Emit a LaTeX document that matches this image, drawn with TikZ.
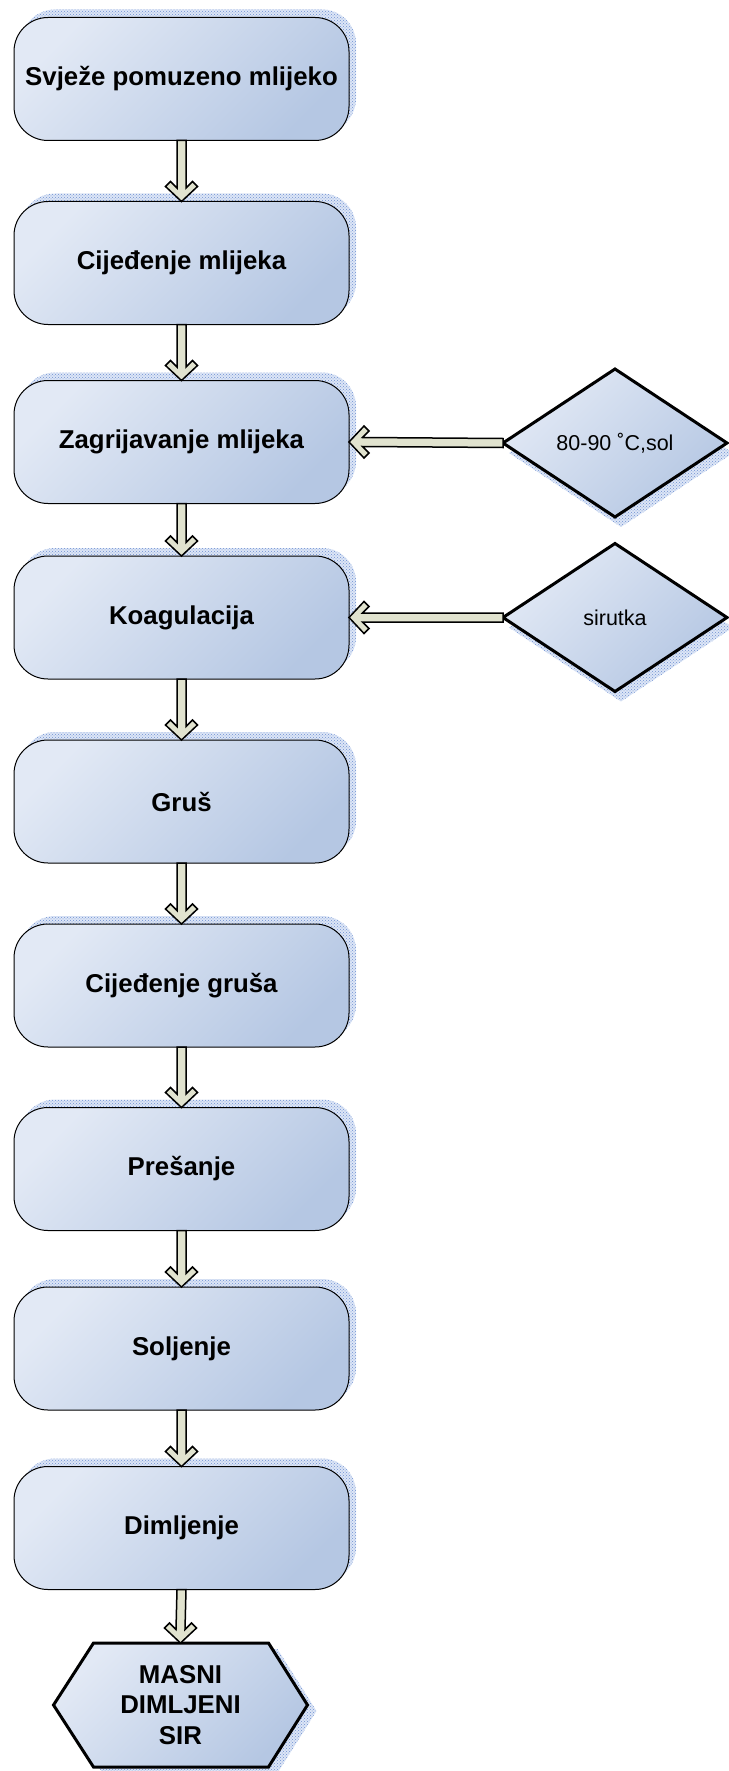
\documentclass[tikz,border=0pt]{standalone}
\usepackage{fontspec}
\setmainfont{Liberation Sans}
\usetikzlibrary{calc,shapes.geometric,shadows,patterns,backgrounds}
\definecolor{boxlight}{HTML}{E2E9F5}
\definecolor{boxdark}{HTML}{B5C7E3}
\definecolor{arrowfill}{HTML}{E1E3CF}
\definecolor{shadowbg}{HTML}{DDE6F6}
\definecolor{shadowdot}{HTML}{6F90D2}
\tikzset{
  boxshade/.style={top color=boxlight, bottom color=boxdark, shading angle=45},
  dotshadow/.style n args={2}{
    general shadow={fill=shadowbg, draw=none, shadow xshift=#1, shadow yshift=#2},
    general shadow={pattern=crosshatch dots, pattern color=shadowdot, draw=none, shadow xshift=#1, shadow yshift=#2}},
  stepbox/.style={rectangle, rounded corners=34pt, minimum width=335pt, minimum height=123pt,
    inner sep=0pt, outer sep=0pt, align=center,
    dotshadow={7pt}{8pt},
    draw=black, line width=1pt, boxshade,
    font=\fontsize{25.8}{31}\selectfont\bfseries},
  inputdia/.style={diamond, aspect=1.5, minimum width=224pt, minimum height=148pt,
    inner sep=0pt, outer sep=0pt,
    dotshadow={6pt}{-10pt},
    draw=black, line width=3pt, boxshade,
    font=\fontsize{21.5}{26}\selectfont},
  endhex/.style={dotshadow={9pt}{-6pt}, draw=black, line width=3pt, line join=miter, boxshade},
  blockarrow/.style={draw=black, line width=1.5pt, fill=arrowfill, line join=miter}
}
\newcommand{\flowdown}[2]{%
  \draw[blockarrow] ($(#1.south)+(-4.5,0)$) -- ($(#2.north)+(-4.5,13.5)$) -- ($(#2.north)+(-11,20)$)
    -- ($(#2.north)+(-16,15)$) -- (#2.north) -- ($(#2.north)+(16,15)$) -- ($(#2.north)+(11,20)$)
    -- ($(#2.north)+(4.5,13.5)$) -- ($(#1.south)+(4.5,0)$) -- cycle;}
\newcommand{\flowleft}[2]{%
  \draw[blockarrow] ($(#1.west)+(0,4.5)$) -- ($(#2.east)+(13.5,4.5)$) -- ($(#2.east)+(20,11)$)
    -- ($(#2.east)+(15,16)$) -- (#2.east) -- ($(#2.east)+(15,-16)$) -- ($(#2.east)+(20,-11)$)
    -- ($(#2.east)+(13.5,-4.5)$) -- ($(#1.west)+(0,-4.5)$) -- cycle;}
\begin{document}
\begin{tikzpicture}[x=1pt,y=1pt]
\useasboundingbox (0,0) rectangle (728,-1771);
\node[stepbox] (b1) at (181.5,-79)   {Svježe pomuzeno mlijeko};
\node[stepbox] (b2) at (181.5,-263)  {Cijeđenje mlijeka};
\node[stepbox] (b3) at (181.5,-442)  {Zagrijavanje mlijeka};
\node[stepbox] (b4) at (181.5,-617.5){Koagulacija};
\node[stepbox] (b5) at (181.5,-801.5){Gruš};
\node[stepbox] (b6) at (181.5,-985.5){Cijeđenje gruša};
\node[stepbox] (b7) at (181.5,-1169) {Prešanje};
\node[stepbox] (b8) at (181.5,-1348.5){Soljenje};
\node[stepbox] (b9) at (181.5,-1528) {Dimljenje};
\node[inputdia] (d1) at (615,-443) {80-90 ˚C,sol};
\node[inputdia] (d2) at (615,-617.5) {sirutka};
\node[minimum width=254pt, minimum height=124pt, inner sep=0pt, outer sep=0pt, align=center,
  font=\fontsize{25.8}{30.7}\selectfont\bfseries] (sir) at (180.5,-1705) {MASNI\\DIMLJENI\\SIR};
\begin{scope}[on background layer]
\path[endhex] ($(sir.north west)+(40,0)$) -- ($(sir.north east)+(-39,0)$) -- (sir.east)
  -- ($(sir.south east)+(-39,0)$) -- ($(sir.south west)+(40,0)$) -- (sir.west) -- cycle;
\end{scope}
\flowdown{b1}{b2}
\flowdown{b2}{b3}
\flowdown{b3}{b4}
\flowdown{b4}{b5}
\flowdown{b5}{b6}
\flowdown{b6}{b7}
\flowdown{b7}{b8}
\flowdown{b8}{b9}
\flowdown{b9}{sir}
\flowleft{d1}{b3}
\flowleft{d2}{b4}
\end{tikzpicture}
\end{document}
